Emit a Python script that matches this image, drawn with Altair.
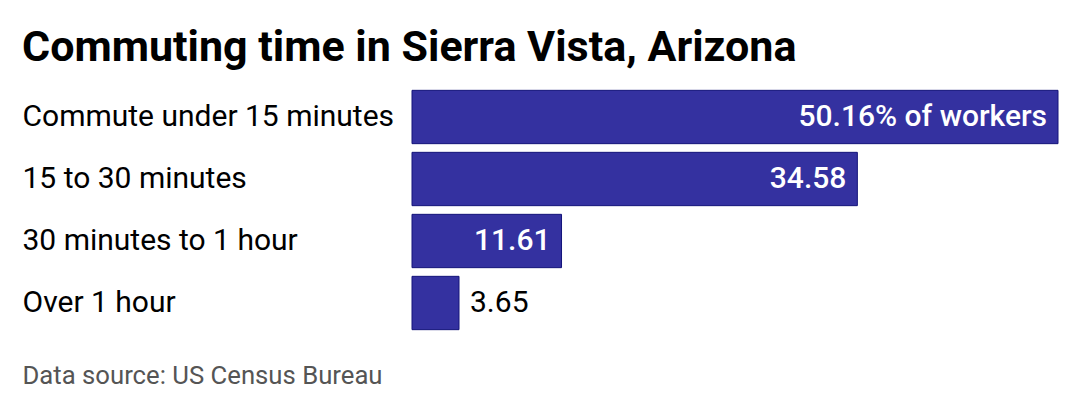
import altair as alt
import pandas as pd

categories = ["Commute under 15 minutes", "15 to 30 minutes", "30 minutes to 1 hour", "Over 1 hour"]
values = [50.16, 34.58, 11.61, 3.65]
labels = ["50.16% of workers", "34.58", "11.61", "3.65"]
inside = [True, True, True, False]

df = pd.DataFrame({"category": categories, "value": values, "label": labels, "inside": inside})

FONT = "Roboto"

y_enc = alt.Y(
    "category:N",
    sort=categories,
    title=None,
    scale=alt.Scale(paddingInner=0.14, paddingOuter=0.07),
    axis=alt.Axis(
        domain=False, ticks=False, tickSize=0, labelAlign="left", labelPadding=390,
        labelFontSize=30, labelFont=FONT, labelColor="#000000", labelLimit=0,
    ),
)
x_enc = alt.X(
    "value:Q",
    scale=alt.Scale(domain=[0, 50.16], nice=False, zero=True),
    axis=alt.Axis(
        domain=False, ticks=False, labels=False, grid=False,
        title="Data source: US Census Bureau", titleX=-390, titleY=49,
        titleAlign="left", titleBaseline="alphabetic", titleFont=FONT,
        titleFontSize=25.7, titleFontWeight="normal", titleColor="#555555",
    ),
)

bars = alt.Chart(df).mark_bar(color="#3431A0", stroke="#14147A", strokeWidth=1).encode(
    x=x_enc, y=y_enc
)

text_in = alt.Chart(df).transform_filter("datum.inside").mark_text(
    align="right", baseline="middle", dx=-11, font=FONT, fontSize=30,
    fontWeight=500, color="white",
).encode(x="value:Q", y=alt.Y("category:N", sort=categories), text="label:N")

text_out = alt.Chart(df).transform_filter("!datum.inside").mark_text(
    align="left", baseline="middle", dx=11, font=FONT, fontSize=30,
    fontWeight="normal", color="#000000",
).encode(x="value:Q", y=alt.Y("category:N", sort=categories), text="label:N")

chart = (
    alt.layer(bars, text_in, text_out)
    .properties(
        width=646,
        height=248,
        background="white",
        title=alt.TitleParams(
            "Commuting time in Sierra Vista, Arizona",
            anchor="start", frame="bounds", font=FONT, fontSize=43,
            fontWeight="bold", color="#000000", offset=16,
        ),
        padding={"left": 14, "top": 19, "right": 5, "bottom": 5},
    )
    .configure_view(strokeWidth=0, stroke=None)
)

chart.save("out.html", embed_options={"renderer": "svg", "actions": False})
